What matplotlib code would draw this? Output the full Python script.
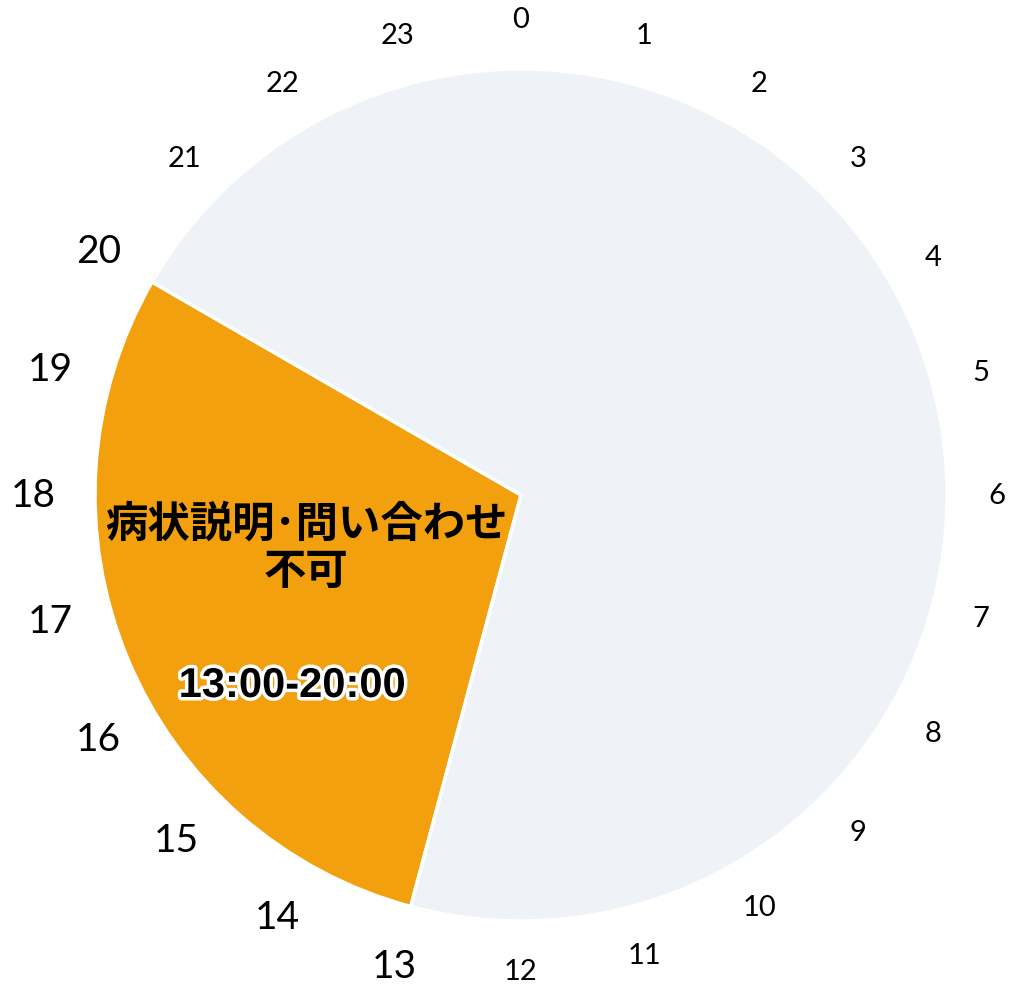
import matplotlib.pyplot as plt
import matplotlib.patheffects as pe
import numpy as np

# 24-hour clock, one blocked period
hours = list(range(24))
block_start = 13
block_end = 20
block_label = "病状説明･問い合わせ\n不可"
time_label = "13:00-20:00"

orange = "#F3A00F"
light = "#EFF2F7"

W, H, DPI = 1019, 987, 100
R = 426.0  # pie radius in px
cx, cy = 521.0, 496.0  # centre, px from top-left

fig = plt.figure(figsize=(W / DPI, H / DPI), dpi=DPI)
ax = fig.add_axes([0, 0, 1, 1])

sizes = [block_end - block_start, 24 - (block_end - block_start)]
ax.pie(sizes, colors=[orange, light], startangle=90 - block_start * 15,
       counterclock=False, radius=1.0,
       wedgeprops=dict(edgecolor="white", linewidth=2.5))

# pie() resets the limits, so set them afterwards
ax.set_xlim(-cx / R, (W - cx) / R)
ax.set_ylim(-(H - cy) / R, cy / R)
ax.axis("off")

# hour labels around the face
for h in hours:
    big = block_start <= h <= block_end
    r = 1.145 if big else 1.118
    ang = np.deg2rad(90 - h * 15)
    ax.text(r * np.cos(ang), r * np.sin(ang), str(h),
            ha="center", va="center", fontsize=28 if big else 21,
            family=["Lato", "DejaVu Sans"], color="black")

# text in the wedge
ax.text((306 - cx) / R, (cy - 548) / R, block_label,
        ha="center", va="center", fontsize=30.5, fontweight="bold",
        family=["Noto Sans CJK JP", "DejaVu Sans"], linespacing=1.15)
ax.text((292 - cx) / R, (cy - 687) / R, time_label,
        ha="center", va="center", fontsize=30, fontweight="bold",
        family=["Liberation Sans", "DejaVu Sans"], color="black",
        path_effects=[pe.withStroke(linewidth=5, foreground="white")])

fig.savefig("out.png", dpi=DPI)
